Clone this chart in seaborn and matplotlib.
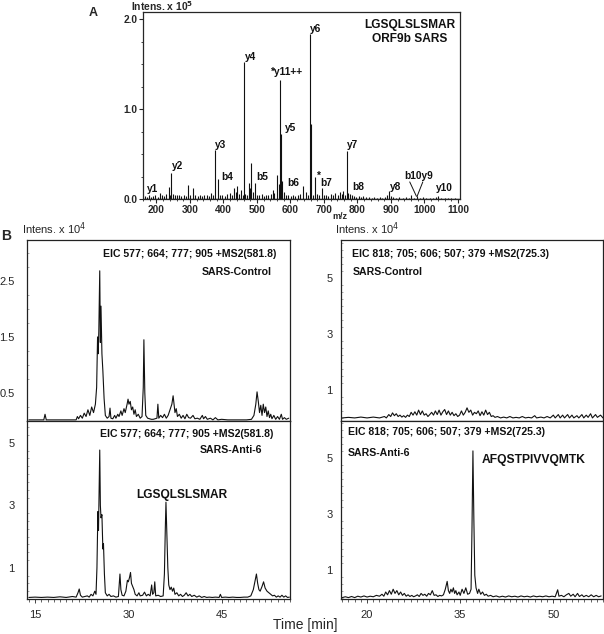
import numpy as np
import pandas as pd
import matplotlib
matplotlib.use("Agg")
import matplotlib.pyplot as plt
import seaborn as sns
from matplotlib.ticker import MultipleLocator, FixedLocator

sns.set_style("ticks")
plt.rcParams['font.family'] = ['Liberation Sans', 'DejaVu Sans']

# Panel A: MS2 spectrum (m/z, intensity x 1e5)
mz = [165, 172, 177, 184, 190, 197, 204, 211, 217, 224,
      230, 237, 241, 245, 250, 256, 262, 268, 274, 281,
      287, 293, 300, 309, 316, 323, 330, 337, 343, 350,
      357, 362, 370, 376, 383, 390, 397, 404, 411, 420,
      426, 432, 437, 442, 447, 453, 458, 461, 465, 470,
      476, 480, 483, 489, 495, 500, 507, 514, 520, 527,
      534, 541, 547, 552, 559, 565, 568, 572, 576, 581,
      587, 594, 601, 608, 615, 622, 630, 638, 645, 651,
      658, 660, 667, 674, 680, 686, 693, 699, 706, 713,
      720, 727, 734, 741, 748, 754, 757, 763, 769, 773,
      777, 783, 790, 797, 804, 811, 818, 826, 834, 842,
      850, 858, 866, 874, 882, 888, 894, 900, 906, 915,
      925, 935, 945, 955, 961, 970, 977, 986, 995, 1005,
      1015, 1025, 1033, 1040, 1050, 1060, 1070, 1080, 1090]
intens = [0.03, 0.02, 0.05, 0.02, 0.03, 0.04, 0.02, 0.07, 0.05, 0.03,
          0.06, 0.13, 0.05, 0.29, 0.06, 0.05, 0.04, 0.05, 0.03, 0.04,
          0.03, 0.16, 0.04, 0.12, 0.05, 0.03, 0.05, 0.03, 0.04, 0.05,
          0.03, 0.07, 0.05, 0.55, 0.22, 0.05, 0.04, 0.03, 0.06, 0.07,
          0.05, 0.12, 0.08, 0.15, 0.06, 0.10, 0.05, 1.52, 0.06, 0.04,
          0.18, 0.12, 0.40, 0.08, 0.18, 0.05, 0.04, 0.06, 0.03, 0.05,
          0.04, 0.06, 0.10, 0.07, 0.27, 0.17, 1.32, 0.72, 0.20, 0.08,
          0.05, 0.04, 0.03, 0.05, 0.03, 0.04, 0.06, 0.14, 0.08, 0.05,
          1.84, 0.83, 0.05, 0.25, 0.06, 0.04, 0.12, 0.04, 0.05, 0.03,
          0.06, 0.04, 0.07, 0.05, 0.08, 0.06, 0.09, 0.05, 0.53, 0.07,
          0.06, 0.04, 0.03, 0.02, 0.03, 0.02, 0.03, 0.02, 0.02, 0.01,
          0.02, 0.01, 0.02, 0.01, 0.02, 0.04, 0.09, 0.03, 0.02, 0.01,
          0.02, 0.01, 0.02, 0.01, 0.04, 0.01, 0.03, 0.01, 0.02, 0.01,
          0.01, 0.01, 0.02, 0.03, 0.01, 0.01, 0.01, 0.01, 0.01]
ion_labels = ['y1', 'y2', 'y3', 'b4', 'y4', 'b5', '*y11++', 'y5', 'b6', 'y6',
              '*', 'b7', 'y7', 'b8', 'y8', 'b10y9', 'y10']
ion_mz = [190, 262, 390, 410, 480, 516, 589, 599, 609, 676,
          685, 708, 785, 802, 913, 984, 1058]
ion_int = [0.11, 0.37, 0.60, 0.25, 1.58, 0.25, 1.41, 0.79, 0.18, 1.89,
           0.26, 0.18, 0.60, 0.13, 0.13, 0.26, 0.12]

# Panel B: extracted ion chromatograms (time in min, intensity x 1e4)
t_ctl1 = [14.0, 15.5, 16.4, 16.6, 16.8, 18.0, 20.0, 21.6, 21.8, 22.0, 22.3, 22.6, 22.9, 23.2, 23.5, 23.8,
          24.1, 24.4, 24.7, 24.9, 25.05, 25.15, 25.25, 25.4, 25.5, 25.6, 25.75, 25.9, 26.1, 26.3, 26.6,
          26.9, 27.05, 27.2, 27.5, 27.8, 28.0, 28.3, 28.5, 28.8, 29.0, 29.3, 29.5, 29.8, 29.95, 30.1,
          30.3, 30.5, 30.7, 30.9, 31.1, 31.3, 31.6, 31.9, 32.2, 32.4, 32.5, 32.65, 32.8, 33.1, 33.4,
          33.7, 34.0, 34.3, 34.6, 34.75, 34.9, 35.2, 35.5, 35.8, 36.1, 36.4, 36.7, 37.0, 37.2, 37.35,
          37.5, 37.7, 37.9, 38.2, 38.5, 38.8, 39.1, 39.4, 39.7, 40.0, 40.4, 40.7, 41.1, 41.5, 41.9,
          42.1, 42.4, 42.7, 43.2, 43.6, 44.0, 44.4, 45.0, 46.0, 47.0, 48.0, 49.0, 49.8, 50.2, 50.5,
          50.7, 50.9, 51.1, 51.3, 51.5, 51.7, 51.9, 52.1, 52.3, 52.5, 52.7, 52.9, 53.1, 53.4, 53.7,
          54.0, 54.3, 54.6, 54.8, 55.1, 55.4, 55.8]
i_ctl1 = [0.02, 0.02, 0.02, 0.12, 0.02, 0.02, 0.02, 0.02, 0.08, 0.04, 0.10, 0.05, 0.14, 0.08, 0.20, 0.10,
          0.25, 0.15, 0.30, 0.60, 1.50, 1.20, 1.60, 2.68, 1.40, 2.05, 1.20, 0.90, 0.40, 0.10, 0.05,
          0.08, 0.23, 0.05, 0.04, 0.10, 0.05, 0.12, 0.08, 0.18, 0.10, 0.22, 0.15, 0.30, 0.39, 0.30,
          0.35, 0.20, 0.25, 0.12, 0.20, 0.08, 0.12, 0.05, 0.08, 0.60, 1.45, 0.50, 0.10, 0.05, 0.04,
          0.03, 0.03, 0.04, 0.05, 0.30, 0.05, 0.10, 0.06, 0.12, 0.05, 0.10, 0.20, 0.30, 0.45, 0.30,
          0.15, 0.22, 0.08, 0.12, 0.05, 0.10, 0.04, 0.12, 0.06, 0.05, 0.10, 0.04, 0.05, 0.03, 0.10,
          0.04, 0.08, 0.03, 0.05, 0.02, 0.06, 0.02, 0.03, 0.02, 0.02, 0.02, 0.02, 0.03, 0.10, 0.30,
          0.52, 0.35, 0.15, 0.28, 0.10, 0.30, 0.15, 0.25, 0.08, 0.18, 0.06, 0.12, 0.04, 0.10, 0.03,
          0.08, 0.03, 0.12, 0.03, 0.06, 0.03, 0.05]

t_anti1 = [14.0, 15.0, 16.0, 17.0, 18.0, 19.0, 20.0, 21.0, 21.6, 21.9, 22.1, 22.3, 22.6, 23.0, 23.4,
           23.7, 24.0, 24.3, 24.6, 24.8, 24.95, 25.1, 25.2, 25.3, 25.4, 25.5, 25.6, 25.75, 25.9, 26.0,
           26.15, 26.3, 26.6, 26.9, 27.2, 27.6, 28.0, 28.4, 28.55, 28.65, 28.8, 29.0, 29.3, 29.6,
           29.85, 30.0, 30.2, 30.35, 30.5, 30.7, 30.9, 31.1, 31.4, 31.7, 31.9, 32.3, 32.6, 32.9, 33.2,
           33.5, 33.75, 33.9, 34.1, 34.25, 34.4, 34.8, 35.2, 35.6, 35.8, 35.95, 36.05, 36.2, 36.35,
           36.5, 36.7, 36.9, 37.1, 37.3, 37.5, 37.8, 38.1, 38.4, 38.7, 39.0, 39.3, 39.6, 39.9, 40.2,
           40.6, 41.0, 41.4, 41.8, 42.2, 42.6, 43.0, 43.5, 44.0, 44.6, 44.8, 45.0, 45.6, 46.2, 46.8,
           47.4, 48.0, 48.6, 49.2, 49.7, 50.1, 50.4, 50.6, 50.8, 51.0, 51.2, 51.5, 51.75, 52.0, 52.3,
           52.6, 52.9, 53.2, 53.5, 53.8, 54.1, 54.4, 54.7, 55.0, 55.3, 55.6, 55.9]
i_anti1 = [0.05, 0.06, 0.05, 0.06, 0.05, 0.07, 0.05, 0.08, 0.06, 0.20, 0.32, 0.12, 0.06, 0.08, 0.10,
           0.06, 0.15, 0.10, 0.25, 0.15, 1.00, 2.80, 2.20, 3.50, 4.77, 3.00, 2.60, 2.70, 1.60, 1.77,
           0.80, 0.20, 0.10, 0.15, 0.08, 0.10, 0.06, 0.08, 0.50, 0.80, 0.30, 0.12, 0.10, 0.25,
           0.60, 0.55, 0.70, 0.85, 0.50, 0.40, 0.30, 0.15, 0.10, 0.20, 0.10, 0.12, 0.22, 0.10, 0.15,
           0.10, 0.45, 0.15, 0.20, 0.55, 0.10, 0.12, 0.08, 0.10, 0.80, 2.30, 3.10, 2.00, 1.00,
           0.45, 0.30, 0.38, 0.25, 0.35, 0.15, 0.20, 0.10, 0.15, 0.08, 0.12, 0.20, 0.10, 0.15, 0.08,
           0.12, 0.06, 0.10, 0.05, 0.08, 0.05, 0.06, 0.05, 0.06, 0.05, 0.15, 0.05, 0.06, 0.05, 0.06,
           0.05, 0.05, 0.06, 0.06, 0.10, 0.30, 0.60, 0.80, 0.50, 0.30, 0.25, 0.40, 0.55, 0.35, 0.25,
           0.20, 0.15, 0.10, 0.12, 0.06, 0.10, 0.06, 0.12, 0.06, 0.10, 0.05, 0.06]

t_ctl2 = [16.0, 17.0, 18.0, 19.0, 20.0, 21.0, 22.0, 22.8, 23.1, 23.5, 23.8, 24.1, 24.4, 24.7, 25.0,
          25.3, 25.6, 25.9, 26.2, 26.5, 26.8, 27.1, 27.4, 27.7, 28.0, 28.3, 28.6, 28.9, 29.2, 29.5,
          29.8, 30.1, 30.4, 30.7, 31.0, 31.3, 31.6, 31.9, 32.2, 32.5, 32.8, 33.1, 33.4, 33.7, 34.0,
          34.3, 34.6, 34.9, 35.2, 35.5, 35.8, 36.1, 36.4, 36.7, 37.0, 37.3, 37.6, 37.9, 38.2, 38.5,
          38.8, 39.1, 39.4, 39.7, 40.0, 40.3, 40.6, 41.0, 41.5, 42.0, 42.5, 43.0, 43.5, 44.0, 44.5,
          45.0, 45.5, 46.0, 46.5, 47.0, 47.3, 48.0, 48.5, 49.0, 49.5, 50.0, 50.3, 50.8, 51.1, 51.5,
          51.8, 52.3, 52.6, 53.0, 53.3, 53.8, 54.1, 54.6, 54.9, 55.3, 55.6, 56.0, 56.3, 56.8, 57.1,
          57.6, 58.0]
i_ctl2 = [0.00, 0.02, 0.00, 0.03, 0.00, 0.03, 0.00, 0.05, 0.00, 0.12, 0.05, 0.18, 0.08, 0.15, 0.05,
          0.10, 0.03, 0.08, 0.02, 0.10, 0.05, 0.20, 0.10, 0.22, 0.10, 0.28, 0.12, 0.25, 0.10, 0.15,
          0.05, 0.12, 0.20, 0.10, 0.25, 0.12, 0.28, 0.10, 0.22, 0.30, 0.12, 0.25, 0.10, 0.20, 0.08,
          0.15, 0.05, 0.10, 0.25, 0.10, 0.20, 0.36, 0.20, 0.28, 0.10, 0.20, 0.15, 0.25, 0.08, 0.22,
          0.10, 0.28, 0.12, 0.20, 0.05, 0.08, 0.02, 0.05, 0.00, 0.03, 0.00, 0.05, 0.00, 0.02, 0.00,
          0.05, 0.00, 0.02, 0.00, 0.08, 0.00, 0.03, 0.00, 0.05, 0.00, 0.10, 0.00, 0.12, 0.00, 0.10,
          0.00, 0.12, 0.00, 0.10, 0.00, 0.08, 0.00, 0.12, 0.00, 0.10, 0.02, 0.15, 0.00, 0.12, 0.02,
          0.10, 0.00]

t_anti2 = [16.0, 16.5, 17.0, 17.5, 18.0, 18.5, 19.0, 19.5, 20.0, 20.5, 21.0, 21.5, 22.0, 22.4, 22.7,
           23.0, 23.3, 23.6, 23.9, 24.2, 24.5, 24.8, 25.1, 25.4, 25.7, 26.0, 26.3, 26.6, 26.9, 27.2,
           27.5, 27.8, 28.1, 28.4, 28.7, 29.0, 29.3, 29.6, 29.9, 30.2, 30.5, 30.8, 31.1, 31.4, 31.7,
           32.0, 32.3, 32.6, 32.9, 33.1, 33.3, 33.5, 33.7, 33.9, 34.1, 34.3, 34.5, 34.8, 35.0, 35.3,
           35.6, 35.9, 36.2, 36.5, 36.75, 36.9, 37.05, 37.2, 37.35, 37.55, 37.8, 38.0, 38.3, 38.6,
           38.9, 39.2, 39.5, 39.9, 40.3, 40.8, 41.3, 41.8, 42.3, 42.8, 43.3, 43.8, 44.3, 44.8, 45.3,
           45.8, 46.3, 46.8, 47.3, 47.8, 48.3, 48.8, 49.3, 49.8, 50.3, 50.7, 50.9, 51.3, 51.7, 52.1,
           52.5, 52.8, 53.2, 53.5, 53.9, 54.2, 54.6, 54.9, 55.3, 55.7, 56.1, 56.5, 56.9, 57.3, 57.7]
i_anti2 = [0.00, 0.03, 0.00, 0.04, 0.00, 0.05, 0.02, 0.06, 0.02, 0.05, 0.03, 0.08, 0.05, 0.12, 0.05,
           0.20, 0.10, 0.25, 0.12, 0.30, 0.15, 0.25, 0.10, 0.20, 0.08, 0.15, 0.05, 0.10, 0.04, 0.08,
           0.03, 0.06, 0.10, 0.04, 0.15, 0.08, 0.12, 0.05, 0.15, 0.10, 0.25, 0.08, 0.10, 0.04, 0.08,
           0.06, 0.10, 0.30, 0.58, 0.25, 0.15, 0.30, 0.20, 0.35, 0.15, 0.25, 0.10, 0.20, 0.08, 0.30,
           0.15, 0.35, 0.12, 0.15, 0.30, 2.50, 5.25, 2.80, 0.80, 0.35, 0.15, 0.30, 0.12, 0.20,
           0.08, 0.12, 0.05, 0.08, 0.03, 0.06, 0.02, 0.05, 0.02, 0.06, 0.03, 0.05, 0.02, 0.06, 0.03,
           0.05, 0.02, 0.06, 0.03, 0.05, 0.03, 0.06, 0.03, 0.05, 0.03, 0.28, 0.05, 0.08, 0.03, 0.10,
           0.15, 0.05, 0.12, 0.03, 0.15, 0.04, 0.10, 0.03, 0.08, 0.03, 0.10, 0.03, 0.08, 0.03, 0.06]

W, H = 604, 634
fig = plt.figure(figsize=(W / 100, H / 100), dpi=100)


def px_axes(x0, y0, x1, y1):
    return fig.add_axes([x0 / W, 1 - y1 / H, (x1 - x0) / W, (y1 - y0) / H])


ink = '#111111'

# ---- Panel A ----
axA = px_axes(143, 12, 460, 199)
axA.vlines(mz, 0, intens, color=ink, lw=0.8)
axA.axhline(0, color=ink, lw=1.0)
axA.set_xlim(160, 1106)
axA.set_ylim(0, 2.08)
axA.xaxis.set_major_locator(MultipleLocator(100))
axA.xaxis.set_minor_locator(MultipleLocator(20))
axA.yaxis.set_major_locator(FixedLocator([0, 1, 2]))
axA.yaxis.set_minor_locator(MultipleLocator(0.25))
axA.set_yticklabels(['0.0', '1.0', '2.0'])
axA.tick_params(axis='both', which='major', labelsize=7.3, length=3, width=0.8, pad=1)
axA.tick_params(axis='both', which='minor', length=1.5, width=0.6)
for lab in axA.get_xticklabels() + axA.get_yticklabels():
    lab.set_fontweight('bold')
for lab, x, y in zip(ion_labels, ion_mz, ion_int):
    axA.text(x, y, lab, ha='center', va='center', fontsize=7.3, fontweight='bold', color=ink)
axA.plot([956, 976], [0.19, 0.03], color=ink, lw=0.7)
axA.plot([995, 978], [0.19, 0.03], color=ink, lw=0.7)
axA.text(956, 1.94, 'LGSQLSLSMAR', ha='center', va='center', fontsize=8.6, fontweight='bold', color=ink)
axA.text(956, 1.78, 'ORF9b SARS', ha='center', va='center', fontsize=8.6, fontweight='bold', color=ink)
for s in axA.spines.values():
    s.set_linewidth(0.9)
fig.text(131 / W, 1 - 6 / H, r'Intens. x 10$^{\mathbf{5}}$', ha='left', va='center',
         fontsize=7.4, fontweight='bold')
fig.text(93 / W, 1 - 13 / H, 'A', ha='center', va='center', fontsize=9, fontweight='bold')
fig.text(340 / W, 1 - 216.5 / H, 'm/z', ha='center', va='center', fontsize=6.5, fontweight='bold')

# ---- Panel B ----
axTL = px_axes(27, 240, 290, 421)
axBL = px_axes(27, 421, 290, 599)
axTR = px_axes(341, 240, 603, 421)
axBR = px_axes(341, 421, 603, 599)

traces = [(axTL, t_ctl1, i_ctl1), (axBL, t_anti1, i_anti1),
          (axTR, t_ctl2, i_ctl2), (axBR, t_anti2, i_anti2)]
for ax, t, i in traces:
    df = pd.DataFrame({'time': t, 'intensity': i})
    sns.lineplot(data=df, x='time', y='intensity', ax=ax, color=ink, lw=0.8, estimator=None, sort=False)
    ax.set_xlabel('')
    ax.set_ylabel('')
    for s in ax.spines.values():
        s.set_linewidth(0.9)
        s.set_color('#222222')

axTL.set_xlim(13.7, 56)
axBL.set_xlim(13.7, 56)
axTR.set_xlim(15.8, 58)
axBR.set_xlim(15.8, 58)
axTL.set_ylim(0, 3.23)
axBL.set_ylim(0, 5.7)
axTR.set_ylim(-0.11, 6.36)
axBR.set_ylim(-0.05, 6.32)

axTL.yaxis.set_major_locator(FixedLocator([0.5, 1.5, 2.5]))
axBL.yaxis.set_major_locator(FixedLocator([1, 3, 5]))
axTR.yaxis.set_major_locator(FixedLocator([1, 3, 5]))
axBR.yaxis.set_major_locator(FixedLocator([1, 3, 5]))
axTL.set_yticklabels(['0.5', '1.5', '2.5'])
axBL.set_yticklabels(['1', '3', '5'])
axTR.set_yticklabels(['1', '3', '5'])
axBR.set_yticklabels(['1', '3', '5'])
axBL.xaxis.set_major_locator(FixedLocator([15, 30, 45]))
axBR.xaxis.set_major_locator(FixedLocator([20, 35, 50]))

for ax in [axTL, axBL, axTR, axBR]:
    ax.xaxis.set_minor_locator(MultipleLocator(1))
    ax.yaxis.set_minor_locator(MultipleLocator(0.25))
    ax.tick_params(axis='y', which='major', labelsize=8, length=0, pad=9 if ax in (axTL, axBL) else 6)
    ax.tick_params(axis='y', which='minor', length=1.5, width=0.5, direction='in', color='#888888')
    ax.tick_params(axis='x', which='major', labelsize=8, length=3, width=0.6, pad=5)
    ax.tick_params(axis='x', which='minor', length=2.5, width=0.5)
for ax in [axTL, axTR]:
    ax.tick_params(axis='x', which='both', bottom=False, labelbottom=False)

bold = dict(fontsize=7.6, fontweight='bold', color=ink)
axTL.text(0.947, 0.923, 'EIC 577; 664; 777; 905 +MS2(581.8)', transform=axTL.transAxes,
          ha='right', va='center', **bold)
axTL.text(0.93, 0.823, 'SARS-Control', transform=axTL.transAxes, ha='right', va='center', **bold)
axBL.text(0.935, 0.927, 'EIC 577; 664; 777; 905 +MS2(581.8)', transform=axBL.transAxes,
          ha='right', va='center', **bold)
axBL.text(0.893, 0.837, 'SARS-Anti-6', transform=axBL.transAxes, ha='right', va='center', **bold)
axBL.text(38.6, 3.32, 'LGSQLSLSMAR', ha='center', va='center', fontsize=8.6, fontweight='bold', color=ink)
axTR.text(0.042, 0.923, 'EIC 818; 705; 606; 507; 379 +MS2(725.3)', transform=axTR.transAxes,
          ha='left', va='center', **bold)
axTR.text(0.046, 0.823, 'SARS-Control', transform=axTR.transAxes, ha='left', va='center', **bold)
axBR.text(0.027, 0.938, 'EIC 818; 705; 606; 507; 379 +MS2(725.3)', transform=axBR.transAxes,
          ha='left', va='center', **bold)
axBR.text(0.027, 0.82, 'SARS-Anti-6', transform=axBR.transAxes, ha='left', va='center', **bold)
axBR.text(38.4, 4.93, 'AFQSTPIVVQMTK', ha='left', va='center', fontsize=8.7, fontweight='bold', color=ink)

fig.text(22 / W, 1 - 229 / H, r'Intens. x 10$^4$', ha='left', va='center', fontsize=8)
fig.text(335 / W, 1 - 229 / H, r'Intens. x 10$^4$', ha='left', va='center', fontsize=8)
fig.text(6 / W, 1 - 236 / H, 'B', ha='center', va='center', fontsize=10, fontweight='bold')
fig.text(305 / W, 1 - 625 / H, 'Time [min]', ha='center', va='center', fontsize=10)

fig.savefig('out.png', dpi=100)
